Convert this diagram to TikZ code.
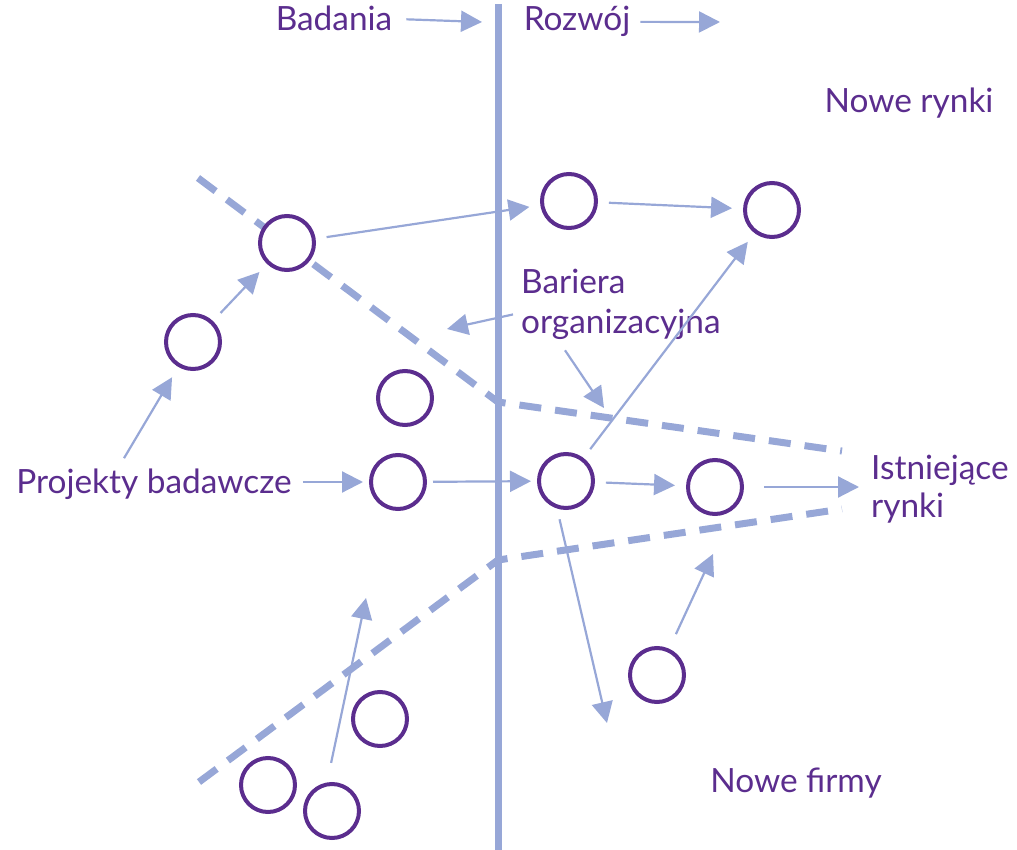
\documentclass[tikz,border=0pt]{standalone}
\usepackage{fontspec}
\setmainfont{Lato}
\usetikzlibrary{arrows.meta,calc}

\definecolor{ink}{HTML}{5B2D8E}
\definecolor{flow}{HTML}{97A7D7}

\tikzset{
  txt/.style={text=ink, inner sep=0pt, font=\fontsize{33.4}{40}\selectfont},
  proj/.style={circle, draw=ink, fill=white, line width=4pt, minimum size=54pt, inner sep=0pt},
  arr/.style={draw=flow, line width=2.2pt, -{Triangle[length=21pt, width=21pt]}},
  gap/.style={shorten <=11pt, shorten >=11pt},
  barrier/.style={draw=flow, line width=7pt, dash pattern=on 22pt off 14pt},
  divider/.style={draw=flow, line width=7pt}
}

\begin{document}
\begin{tikzpicture}[x=1pt, y=-1pt]
\useasboundingbox (0,0) rectangle (1017,850);

% research / development divider
\coordinate (divtop) at (498,4);
\coordinate (divbot) at (498,850);
\draw[divider] (divtop) -- (divbot);

% organisational barriers
\coordinate (b1) at (198,178);
\coordinate (b2) at (498,402);
\coordinate (b3) at (842,451);
\coordinate (c1) at (199,782);
\coordinate (c2) at (498,560);
\coordinate (c3) at (842,509);
\draw[barrier] (b1) -- (b2) -- (b3);
\draw[barrier] (c1) -- (c2) -- (c3);

% headings
\node[txt, anchor=base] (bad) at (334,31) {Badania};
\node[txt, anchor=base] (roz) at (577,31) {Rozwój};
\coordinate (badE) at (482,22);
\coordinate (rozE) at (720,22);
\draw[arr, shorten <=14pt] (bad.east) -- (badE);
\draw[arr, shorten <=10pt] (roz.east) -- (rozE);

% labels
\node[txt, anchor=base] (nr) at (909,113) {Nowe rynki};
\node[txt, anchor=base] (nf) at (796,792) {Nowe firmy};
\node[txt, anchor=base] (pb) at (154,493) {Projekty badawcze};
\node[txt, anchor=base west] (bar1) at (521,294) {Bariera};
\node[txt, anchor=base west] (bar2) at (521,333) {organizacyjna};
\node[txt, anchor=base west] (ist1) at (871,479) {Istniejące};
\node[txt, anchor=base west] (ist2) at (871,517) {rynki};

% projects
\node[proj] (A) at (287,243) {};
\node[proj] (B) at (193,342) {};
\node[proj] (C) at (405,398) {};
\node[proj] (D) at (398,482) {};
\node[proj] (E) at (569,201) {};
\node[proj] (F) at (772,210) {};
\node[proj] (G) at (566,481) {};
\node[proj] (H) at (715,487) {};
\node[proj] (I) at (657,675) {};
\node[proj] (J) at (380,719) {};
\node[proj] (K) at (268,785) {};
\node[proj] (L) at (332,811) {};

% free arrow ends
\coordinate (barL) at (447,329);
\coordinate (barD) at (604,408);
\coordinate (gOut) at (607,723);
\coordinate (iOut) at (713,554);
\coordinate (lOut) at (366,598);

% flows between projects
\draw[arr, gap] (A) -- (E);
\draw[arr, gap] (B) -- (A);
\draw[arr, gap] (E) -- (F);
\draw[arr, gap] (G) -- (F);
\draw[arr, shorten <=6pt, shorten >=6pt] (D) -- (G);
\draw[arr, gap] (G) -- (H);
\draw[arr, shorten <=20pt, shorten >=12pt] (H) -- (H -| ist1.west);
\draw[arr, shorten <=11pt, shorten >=6pt] (pb.east |- D) -- (D);
\draw[arr, shorten >=12pt] ($(pb.north)+(-30,-10)$) -- (B);
\draw[arr, shorten <=11pt] (G.252) -- (gOut);
\draw[arr, shorten <=16pt] (I) -- (iOut);
\draw[arr, shorten <=20pt] (L.100) -- (lOut);

% barrier label pointers
\draw[arr] ($(bar2.north west)+(-8,6)$) -- (barL);
\draw[arr] ($(bar2.south west)+(44,11)$) -- (barD);
\end{tikzpicture}
\end{document}
